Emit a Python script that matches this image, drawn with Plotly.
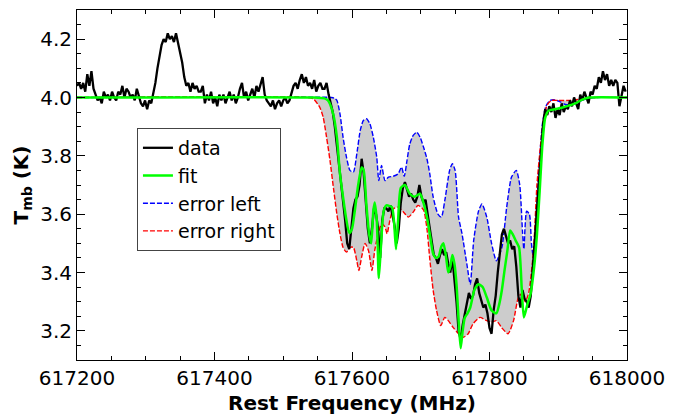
import numpy as np
import plotly.graph_objects as go

# ---- observed spectrum (channels every 3 MHz starting at 617200 MHz) ----
data_start = 617200
data_step = 3
data_vals = [
    4.04, 4.05, 4.03, 4.05, 4.02, 4.08, 4.04, 4.09, 4.03, 4.01,
    3.99, 4.00, 3.98, 4.02, 4.00, 4.01, 3.99, 4.02, 4.00, 3.99,
    4.02, 4.01, 4.04, 4.00, 4.03, 4.02, 4.00, 4.01, 3.99, 4.03,
    4.00, 3.98, 3.97, 3.99, 3.96, 3.99, 3.98, 4.01, 4.05, 4.10,
    4.14, 4.18, 4.20, 4.19, 4.22, 4.20, 4.21, 4.19, 4.22, 4.19,
    4.16, 4.12, 4.07, 4.04, 4.05, 4.02, 4.05, 4.03, 4.04, 4.02,
    4.02, 4.04, 3.98, 4.01, 3.99, 4.02, 3.98, 4.00, 3.97, 4.01,
    3.99, 4.01, 3.98, 4.00, 4.02, 3.99, 4.01, 3.98, 4.00, 4.03,
    4.05, 4.00, 4.02, 3.99, 4.01, 4.03, 4.00, 4.04, 4.02, 4.05,
    4.07, 4.01, 3.99, 3.98, 3.97, 3.99, 3.96, 3.98, 3.99, 3.97,
    3.99, 4.00, 3.98, 3.99, 4.02, 4.04, 4.05, 4.03, 4.06, 4.08,
    4.05, 4.07, 4.04, 4.05, 4.03, 4.06, 4.02, 4.04, 4.05, 4.03,
    4.03, 4.05, 4.01, 3.98, 3.95, 3.90, 3.84, 3.78, 3.72, 3.66,
    3.58, 3.50, 3.48, 3.55, 3.62, 3.65, 3.66, 3.70, 3.79, 3.74,
    3.64, 3.55, 3.50, 3.55, 3.62, 3.60, 3.55, 3.45, 3.58, 3.62,
    3.62, 3.61, 3.63, 3.60, 3.56, 3.50, 3.55, 3.64, 3.69, 3.71,
    3.68, 3.66, 3.67, 3.65, 3.64, 3.66, 3.70, 3.66, 3.64, 3.65,
    3.60, 3.55, 3.50, 3.46, 3.45, 3.43, 3.46, 3.48, 3.46, 3.47,
    3.43, 3.40, 3.45, 3.38, 3.30, 3.20, 3.17, 3.22, 3.26, 3.30,
    3.33, 3.31, 3.32, 3.36, 3.38, 3.33, 3.30, 3.28, 3.29, 3.26,
    3.21, 3.19, 3.27, 3.32, 3.40, 3.47, 3.53, 3.55, 3.52, 3.50,
    3.51, 3.48, 3.49, 3.42, 3.32, 3.28, 3.34, 3.31, 3.30, 3.28,
    3.32, 3.42, 3.53, 3.64, 3.74, 3.84, 3.91, 3.96, 3.94, 3.97,
    3.95, 3.98, 3.93, 3.96, 3.94, 3.98, 3.95, 3.97, 3.96, 3.99,
    3.97, 4.00, 3.98, 3.96, 4.01, 3.99, 4.02, 4.00, 3.98, 4.02,
    4.01, 4.04, 4.03, 4.07, 4.05, 4.09, 4.06, 4.08, 4.04, 4.06,
    4.04, 4.06, 4.05, 3.97, 4.01, 4.04, 4.02,
]

# ---- fit ----
fit_freq = [617200, 617545, 617560, 617565, 617568, 617573, 617578, 617582.5, 617587, 617592,
            617596, 617600, 617604, 617609, 617614, 617617, 617621, 617625, 617628, 617631,
            617633, 617636, 617639, 617642, 617646, 617650, 617658, 617661, 617664, 617667,
            617671, 617677, 617684, 617691, 617699, 617705, 617709, 617714, 617718, 617722,
            617726, 617730, 617733, 617737, 617740, 617743, 617746, 617749, 617752, 617755,
            617758, 617761, 617764, 617768, 617772, 617778, 617784, 617790, 617796, 617803,
            617810, 617814, 617818, 617822, 617826, 617830, 617834, 617838, 617843, 617847,
            617850, 617855, 617860, 617865, 617869, 617873, 617877, 617881, 617886, 617895,
            617905, 617915, 617925, 617935, 617945, 618000]
fit_vals = [4.0, 4.0, 3.997, 3.99, 3.978, 3.94, 3.864, 3.74, 3.658, 3.578,
            3.535, 3.55, 3.61, 3.70, 3.76, 3.75, 3.63, 3.53, 3.50, 3.61,
            3.64, 3.58, 3.38, 3.486, 3.61, 3.63, 3.624, 3.578, 3.48, 3.578,
            3.69, 3.70, 3.67, 3.66, 3.67, 3.63, 3.59, 3.52, 3.465, 3.45,
            3.455, 3.49, 3.50, 3.45, 3.40, 3.42, 3.46, 3.43, 3.36, 3.24,
            3.14, 3.20, 3.245, 3.26, 3.28, 3.34, 3.36, 3.35, 3.315, 3.27,
            3.26, 3.29, 3.34, 3.41, 3.475, 3.544, 3.53, 3.51, 3.486, 3.34,
            3.246, 3.29, 3.33, 3.42, 3.53, 3.68, 3.84, 3.93, 3.955, 3.96,
            3.965, 3.972, 3.98, 3.993, 4.0, 4.0]

# ---- error left ----
errl_freq = [617200, 617570, 617574, 617578, 617582.5, 617587, 617592, 617597, 617602, 617607,
             617612, 617616.5, 617621, 617626, 617631, 617636, 617639, 617643, 617648, 617653,
             617660, 617667, 617672, 617676, 617680, 617684, 617689, 617694, 617699, 617704,
             617709, 617713, 617718, 617725, 617730, 617735, 617742, 617746, 617750, 617755,
             617760, 617767, 617772, 617777, 617784, 617789, 617796, 617803, 617810, 617818,
             617825, 617832, 617839, 617844, 617848, 617850, 617854, 617858, 617861, 617864,
             617868, 617872, 617877, 617882, 617888, 617895, 617903, 617912, 617925, 617940,
             617955, 618000]
errl_vals = [4.0, 4.0, 3.998, 3.99, 3.944, 3.864, 3.795, 3.75, 3.744, 3.807,
             3.887, 3.921, 3.927, 3.91, 3.864, 3.795, 3.715, 3.767, 3.715, 3.727,
             3.73, 3.738, 3.761, 3.73, 3.784, 3.84, 3.87, 3.881, 3.864, 3.83,
             3.79, 3.74, 3.66, 3.60, 3.59, 3.647, 3.75, 3.773, 3.75, 3.59,
             3.533, 3.43, 3.36, 3.51, 3.61, 3.635, 3.59, 3.50, 3.44, 3.486,
             3.624, 3.727, 3.75, 3.70, 3.54, 3.48, 3.61, 3.60, 3.50, 3.45,
             3.60, 3.76, 3.91, 3.97, 3.99, 3.992, 3.985, 3.975, 3.98, 3.995,
             4.0, 4.0]

# ---- error right ----
errr_freq = [617200, 617535, 617544, 617553, 617558, 617563, 617568, 617573, 617578, 617582.5,
             617587, 617592, 617597, 617602, 617607, 617610, 617614, 617619, 617624, 617629,
             617633, 617638, 617643, 617648, 617651, 617655, 617660, 617667, 617675, 617682,
             617689, 617696, 617704, 617709, 617713, 617718, 617723, 617729, 617735, 617740,
             617747, 617755, 617762, 617769, 617776, 617786, 617796, 617803, 617810, 617818,
             617827, 617835, 617842, 617847, 617852, 617857, 617864, 617869, 617874, 617879,
             617884, 617890, 617900, 617915, 617935, 617950, 618000]
errr_vals = [4.0, 4.0, 3.995, 3.967, 3.933, 3.864, 3.784, 3.69, 3.60, 3.533,
             3.486, 3.47, 3.486, 3.486, 3.44, 3.407, 3.453, 3.50, 3.475, 3.407,
             3.475, 3.533, 3.567, 3.556, 3.533, 3.578, 3.618, 3.624, 3.607, 3.59,
             3.607, 3.63, 3.615, 3.55, 3.45, 3.34, 3.27, 3.218, 3.246, 3.235,
             3.212, 3.19, 3.178, 3.19, 3.224, 3.246, 3.235, 3.23, 3.235, 3.21,
             3.19, 3.235, 3.315, 3.327, 3.30, 3.33, 3.475, 3.70, 3.83, 3.93,
             3.975, 3.99, 3.99, 3.99, 3.995, 4.0, 4.0]

x_ticks = [617200, 617400, 617600, 617800, 618000]
y_ticks = [3.2, 3.4, 3.6, 3.8, 4.0, 4.2]

data_freq = data_start + data_step * np.arange(len(data_vals))

FONT = "DejaVu Sans"
fig = go.Figure()

# gray band between the two error curves
fig.add_trace(go.Scatter(x=errl_freq, y=errl_vals, mode="lines",
                         line=dict(width=0, shape="spline", smoothing=0.6, color="rgba(0,0,0,0)"),
                         showlegend=False, hoverinfo="skip"))
fig.add_trace(go.Scatter(x=errr_freq, y=errr_vals, mode="lines", fill="tonexty",
                         fillcolor="#cccccc",
                         line=dict(width=0, shape="spline", smoothing=0.6, color="rgba(0,0,0,0)"),
                         showlegend=False, hoverinfo="skip"))

fig.add_trace(go.Scatter(x=errl_freq, y=errl_vals, mode="lines", name="error left", legendrank=3,
                         line=dict(color="#0000ff", width=1.4, dash="5px,2px", shape="spline", smoothing=0.6)))
fig.add_trace(go.Scatter(x=errr_freq, y=errr_vals, mode="lines", name="error right", legendrank=4,
                         line=dict(color="#ff0000", width=1.4, dash="5px,2px", shape="spline", smoothing=0.6)))
fig.add_trace(go.Scatter(x=data_freq, y=data_vals, mode="lines", name="data", legendrank=1,
                         line=dict(color="black", width=2.3)))
fig.add_trace(go.Scatter(x=fit_freq, y=fit_vals, mode="lines", name="fit", legendrank=2,
                         line=dict(color="#00ff00", width=2.5, shape="spline", smoothing=0.6)))

axis_common = dict(showline=True, linecolor="black", linewidth=1, mirror="ticks",
                   ticks="inside", ticklen=8, tickwidth=1, tickcolor="black",
                   showgrid=False, zeroline=False,
                   tickfont=dict(family=FONT, size=20, color="black"))

fig.update_xaxes(range=[617200, 618000], tickvals=x_ticks,
                 ticktext=[str(v) for v in x_ticks],
                 minor=dict(dtick=50, tick0=617200, ticks="inside", ticklen=4, tickcolor="black"),
                 title=dict(text="<b>Rest Frequency (MHz)</b>", standoff=6,
                            font=dict(family=FONT, size=20, color="black")),
                 **axis_common)
fig.update_yaxes(range=[3.1, 4.3], tickvals=y_ticks,
                 ticktext=[f"{v:.1f}" for v in y_ticks],
                 minor=dict(dtick=0.05, tick0=3.1, ticks="inside", ticklen=4, tickcolor="black"),
                 title=dict(text="<b>T<sub>mb</sub> (K)</b>", standoff=6,
                            font=dict(family=FONT, size=20, color="black")),
                 **axis_common)

# the page body adds an 8px offset, so the figure is drawn 8px smaller
fig.update_layout(
    width=673, height=409,
    margin=dict(l=69, r=54, t=2, b=57),
    plot_bgcolor="white", paper_bgcolor="white",
    font=dict(family=FONT, color="black"),
    legend=dict(x=0.109, y=0.663, xanchor="left", yanchor="top",
                traceorder="normal",
                bgcolor="white", bordercolor="#444444", borderwidth=1,
                font=dict(family=FONT, size=19, color="black"),
                itemwidth=30, tracegroupgap=0),
)

fig.write_html("out.html")
